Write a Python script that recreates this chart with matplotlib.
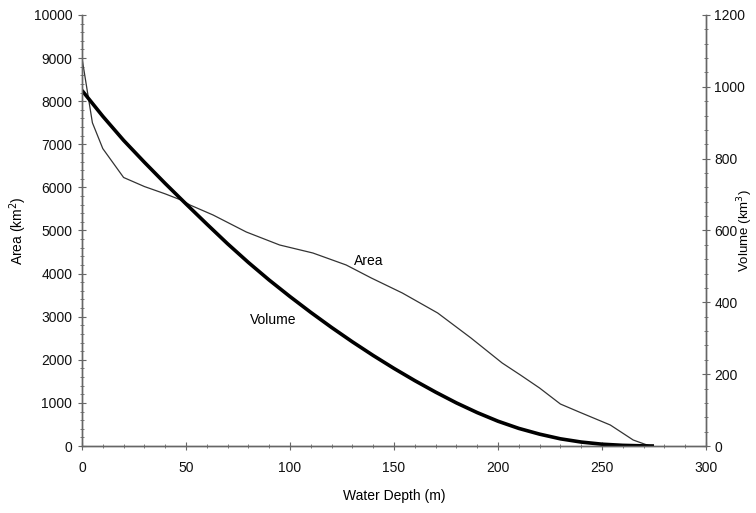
import matplotlib
matplotlib.use("Agg")
import matplotlib.pyplot as plt
from matplotlib.ticker import MultipleLocator

plt.rcParams['font.family'] = ['Liberation Sans', 'DejaVu Sans']

area_depth = [0, 5, 10, 20, 30, 40, 48, 52, 63, 79, 95, 111, 127, 139, 154,
              171, 187, 202, 211, 220, 230, 239, 254, 265, 273]
area_km2 = [9000, 7500, 6900, 6230, 6020, 5850, 5700, 5590, 5360, 4965, 4664,
            4478, 4200, 3900, 3550, 3086, 2506, 1926, 1640, 1345, 974, 789,
            487, 139, 0]

vol_depth = [0, 10, 20, 30, 40, 50, 60, 70, 80, 90, 100, 110, 120, 130, 140,
             150, 160, 170, 180, 190, 200, 210, 220, 230, 240, 250, 260, 270,
             275]
vol_km3 = [990, 918, 851, 790, 731, 674, 618, 563, 511, 462, 416, 372, 330,
           290, 252, 216, 182, 150, 120, 93, 69, 49, 33, 20, 11, 5, 1.8, 0.3,
           0]

fig = plt.figure(figsize=(7.56, 5.13), dpi=100)
ax = fig.add_axes([82/756, 67/513, 624/756, 431/513])
ax2 = ax.twinx()

ax.plot(area_depth, area_km2, color='#333333', lw=0.9)
ax2.plot(vol_depth, vol_km3, color='black', lw=2.6, solid_capstyle='butt',
         solid_joinstyle='round')

ax.set_xlim(0, 300)
ax.set_ylim(0, 10000)
ax2.set_ylim(0, 1200)

ax.xaxis.set_major_locator(MultipleLocator(50))
ax.xaxis.set_minor_locator(MultipleLocator(10))
ax.yaxis.set_major_locator(MultipleLocator(1000))
ax.yaxis.set_minor_locator(MultipleLocator(200))
ax2.yaxis.set_major_locator(MultipleLocator(200))
ax2.yaxis.set_minor_locator(MultipleLocator(40))

spine_col = '#666666'
for a in (ax, ax2):
    a.spines['top'].set_visible(False)
    for s in ('left', 'right', 'bottom'):
        a.spines[s].set_color(spine_col)
        a.spines[s].set_linewidth(1.0)
    a.tick_params(which='major', direction='inout', length=6, width=0.8,
                  color=spine_col, labelsize=10, labelcolor='#111111')
    a.tick_params(which='minor', direction='inout', length=3, width=0.6,
                  color=spine_col)
ax.tick_params(axis='x', pad=8)
ax.tick_params(axis='y', pad=4)
ax2.tick_params(axis='y', pad=3)

ax.set_xlabel('Water Depth (m)', fontsize=10, labelpad=10)
ax.set_ylabel('Area (km$^2$)', fontsize=10, va='center')
ax2.set_ylabel('Volume (km$^3$)', fontsize=9.5, va='center')
ax.yaxis.set_label_coords(-0.102, 0.5)
ax2.yaxis.set_label_coords(1.063, 0.5)

ax.text(138, 4300, 'Area', fontsize=10, ha='center', va='center')
ax.text(92, 2920, 'Volume', fontsize=10, ha='center', va='center')

fig.savefig('out.png', dpi=100)
